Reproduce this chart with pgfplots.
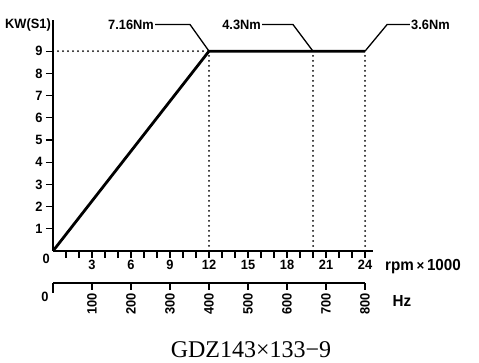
\documentclass[border=0pt]{standalone}
\usepackage{pgfplots}
\pgfplotsset{compat=1.18}
\usepackage{fontspec}
\setmainfont{Liberation Sans}[FakeStretch=0.95]
\newfontfamily\titlefont{Liberation Serif}
\newcommand\lab{\fontsize{13.5}{15}\selectfont\bfseries}
\begin{document}
\begin{tikzpicture}
\path[use as bounding box] (0pt,0pt) rectangle (479pt,363pt);
\begin{axis}[
  at={(53pt,112pt)}, anchor=south west,
  scale only axis, width=319.8pt, height=230.9pt,
  xmin=0, xmax=24.6, ymin=0, ymax=10.4,
  axis x line=bottom, axis y line=left,
  axis line style={-, line width=1.4pt},
  tick align=outside,
  xtick={3,6,...,24},
  minor xtick={1,2,4,5,7,8,10,11,13,14,16,17,19,20,22,23},
  ytick={1,...,9},
  major tick length=7pt, minor tick length=7pt,
  every tick/.style={line width=1.2pt, black},
  tick label style={font=\lab},
  xticklabel style={yshift=1pt},
  /pgf/number format/assume math mode=true,
  clip=false,
]
\addplot[black, line width=2pt, line cap=round, dash pattern=on 0pt off 5pt] coordinates {(0,9) (12,9)};
\addplot[black, line width=2pt, line cap=round, dash pattern=on 0pt off 5pt] coordinates {(12,0) (12,9)};
\addplot[black, line width=2pt, line cap=round, dash pattern=on 0pt off 5pt] coordinates {(20,0) (20,9)};
\addplot[black, line width=2pt, line cap=round, dash pattern=on 0pt off 5pt] coordinates {(24,0) (24,9)};
\addplot[black, line width=2.8pt, line join=miter] coordinates {(0,0) (12,9) (24,9)};
\addplot[black, line width=1.3pt] coordinates {(7.85,10.2) (10.54,10.2) (12,9)};
\addplot[black, line width=1.3pt] coordinates {(16.08,10.2) (18.46,10.2) (20,9)};
\addplot[black, line width=1.3pt] coordinates {(24,9) (25.7,10.2) (27.46,10.2)};
\node[anchor=east, font=\lab, inner sep=1pt] at (axis cs:7.85,10.2) {7.16Nm};
\node[anchor=east, font=\lab, inner sep=1pt] at (axis cs:16.08,10.2) {4.3Nm};
\node[anchor=west, font=\lab, inner sep=1pt] at (axis cs:27.46,10.2) {3.6Nm};
\node[anchor=east, font=\lab, inner sep=2pt] at (axis cs:0,10.2) {KW(S1)};
\node[anchor=north east, font=\lab, inner sep=1pt, xshift=-2pt, yshift=-2pt] at (axis cs:0,0) {0};
\end{axis}
\begin{axis}[
  at={(53pt,80pt)}, anchor=south west,
  scale only axis, width=312pt, height=10pt,
  xmin=0, xmax=800, ymin=0, ymax=1,
  axis x line=bottom, axis y line=none,
  axis line style={-, line width=1.4pt},
  tick align=outside,
  xtick={100,200,...,800},
  major tick length=7pt,
  every tick/.style={line width=1.2pt, black},
  xticklabel style={rotate=90, anchor=east, font=\lab},
  /pgf/number format/assume math mode=true,
  extra x ticks={0}, extra x tick labels={},
  extra x tick style={major tick length=10pt},
  clip=false,
]
\addplot[draw=none] coordinates {(0,0) (800,0)};
\end{axis}
\node[font=\lab] at (45pt,66pt) {0};
\node[font=\fontsize{16}{18}\selectfont\bfseries] at (402pt,62pt) {Hz};
\node[font=\fontsize{16}{18}\selectfont\bfseries, anchor=west, inner sep=0pt] at (385pt,96pt) {rpm\,{\fontsize{14}{16}\selectfont\symbol{"00D7}}\,1000};
\node[font=\titlefont\fontsize{24}{28}\selectfont, anchor=base] at (251pt,5pt) {GDZ143\symbol{"00D7}133\symbol{"2212}9};
\end{tikzpicture}
\end{document}
